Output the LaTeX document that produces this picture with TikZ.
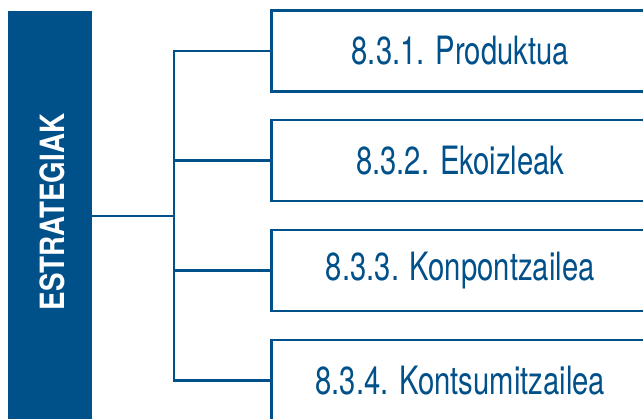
\documentclass[tikz,border=0pt]{standalone}
\usepackage{fontspec}
\setmainfont{TeX Gyre Heros}[FakeStretch=0.75]
\newfontfamily\barfont{TeX Gyre Heros}[FakeStretch=0.83]
\definecolor{estblue}{RGB}{0,80,138}
\tikzset{
  item/.style={draw=estblue, line width=2.6pt, minimum width=378pt, minimum height=81pt,
    anchor=west, inner sep=0pt, text=estblue, font=\fontsize{39}{39}\selectfont},
  link/.style={draw=estblue, line width=2.8pt}
}
\begin{document}
\begin{tikzpicture}[x=1pt, y=-1pt]
  \clip (0,0) rectangle (643,418);
  \fill [white] (0,0) rectangle (643,418);
  % left bar
  \node [fill=estblue, minimum width=84pt, minimum height=420pt, anchor=north west, inner sep=0pt] (bar) at (8,11) {};
  \node [rotate=90, text=white, font=\barfont\bfseries\fontsize{33.4}{33.4}\selectfont] (barlabel) at (52,212) {ESTRATEGIAK};
  % boxes
  \node [item] (p1) at (270,51) {8.3.1. Produktua};
  \node [item] (p2) at (270,160.5) {8.3.2. Ekoizleak};
  \node [item] (p3) at (270,270.5) {8.3.3. Konpontzailea};
  \node [item] (p4) at (270,380.5) {8.3.4. Kontsumitzailea};
  % tree
  \coordinate (hub) at (174,216);
  \draw [link] (bar.east |- hub) -- (hub);
  \draw [link] (p1.west) -- (p1.west -| hub) -- (p4.west -| hub) -- (p4.west);
  \draw [link] (p2.west -| hub) -- (p2.west);
  \draw [link] (p3.west -| hub) -- (p3.west);
\end{tikzpicture}
\end{document}
